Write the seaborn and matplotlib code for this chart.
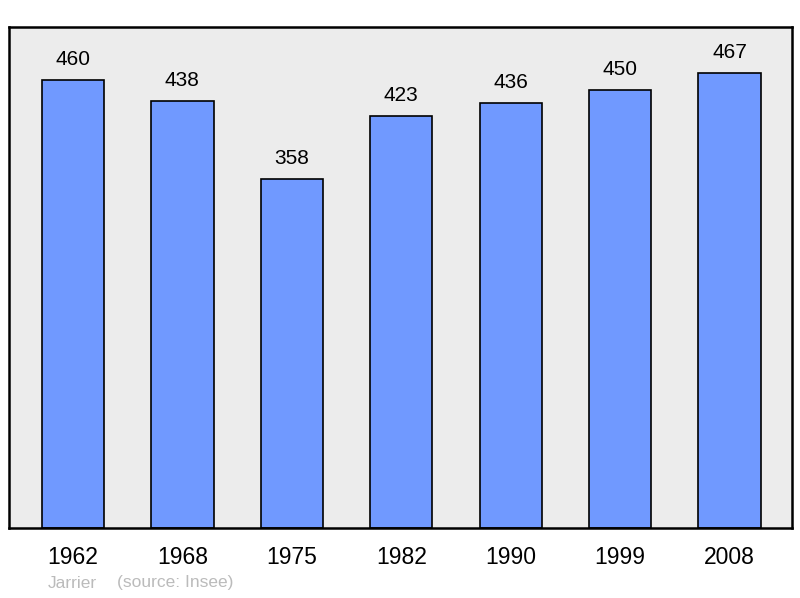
import matplotlib
matplotlib.use('Agg')
import matplotlib.pyplot as plt
import seaborn as sns
import pandas as pd

# Population data (Insee)
years = ['1962', '1968', '1975', '1982', '1990', '1999', '2008']
population = [460, 438, 358, 423, 436, 450, 467]

sns.set_style("white")
plt.rcParams['font.family'] = ['Liberation Sans', 'DejaVu Sans']

df = pd.DataFrame({'year': years, 'population': population})

fig = plt.figure(figsize=(8, 5.98), dpi=100)
ax = fig.add_axes([9 / 800, 70 / 598, 783 / 800, 501 / 598])
ax.set_facecolor('#ececec')

sns.barplot(data=df, x='year', y='population', color='#7099ff', saturation=1,
            width=0.57, edgecolor='black', linewidth=1.2, ax=ax, zorder=2)

for i, v in enumerate(population):
    ax.annotate(str(v), (i, v), xytext=(0, 8), textcoords='offset points',
                ha='center', va='bottom', fontsize=15, color='black')

ax.set_xlim(-0.585, 6.571)
ax.set_ylim(0, 514.3)
ax.set_yticks([])
ax.set_xlabel('')
ax.set_ylabel('')
ax.tick_params(axis='x', length=0, pad=13, labelsize=16.5, labelcolor='black')
for s in ax.spines.values():
    s.set_visible(True)
    s.set_color('black')
    s.set_linewidth(1.8)

fig.text(48 / 800, 1 - 583 / 598, 'Jarrier', color='#bbbbbb', fontsize=12.5, va='center')
fig.text(117 / 800, 1 - 583 / 598, '(source: Insee)', color='#bbbbbb', fontsize=12.5, va='center')

fig.savefig('out.png', dpi=100)
